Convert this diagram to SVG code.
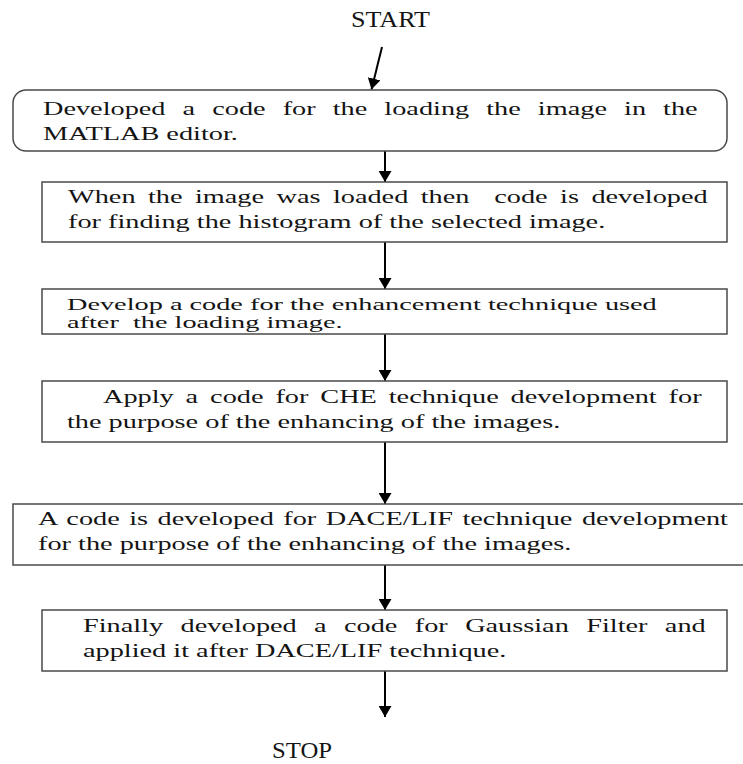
<svg xmlns="http://www.w3.org/2000/svg" width="743" height="764" viewBox="0 0 743 764">
<style>
.box{fill:#fff;stroke:#4a4a4a;stroke-width:1.5}
.t{font-family:"Liberation Serif","Times New Roman",serif;font-size:18px;fill:#141414;white-space:pre}
.t.s{font-size:17px}
.lbl{font-family:"Liberation Serif","Times New Roman",serif;font-size:24px;fill:#141414}
.arr{stroke:#000;stroke-width:2;fill:none;marker-end:url(#ah)}
</style>
<defs>
<marker id="ah" viewBox="0 0 11 13" markerWidth="11" markerHeight="13" refX="11" refY="6.5" orient="auto" markerUnits="userSpaceOnUse">
<path d="M0,0 L11,6.5 L0,13 z" fill="#000"/>
</marker>
</defs>
<rect width="743" height="764" fill="#fff"/>
<g id="start"><text class="lbl" x="351" y="27" textLength="79" lengthAdjust="spacingAndGlyphs">START</text></g>
<g id="stop"><text class="lbl" x="272" y="758" textLength="60" lengthAdjust="spacingAndGlyphs">STOP</text></g>
<g id="connectors">
<line class="arr" x1="382" y1="47" x2="371.5" y2="89.5"/>
<line class="arr" x1="385" y1="151" x2="385" y2="182"/>
<line class="arr" x1="385" y1="242" x2="385" y2="289"/>
<line class="arr" x1="385" y1="334" x2="385" y2="381"/>
<line class="arr" x1="385" y1="442" x2="385" y2="504"/>
<line class="arr" x1="385" y1="565" x2="385" y2="610"/>
<line class="arr" x1="385" y1="671" x2="385" y2="717"/>
</g>
<g id="node1">
<rect class="box" x="13" y="90" width="714" height="61" rx="13" ry="13"/>
<text class="t" transform="translate(43,115) scale(1.572,1)" word-spacing="6.36">Developed a code for the loading the image in the</text>
<text class="t" transform="translate(43,140) scale(1.572,1)">MATLAB editor.</text>
</g>
<g id="node2">
<rect class="box" x="42" y="182" width="685" height="60"/>
<text class="t" transform="translate(68,203) scale(1.572,1)" word-spacing="3.41">When the image was loaded then  code is developed</text>
<text class="t" transform="translate(68,228) scale(1.572,1)">for finding the histogram of the selected image.</text>
</g>
<g id="node3">
<rect class="box" x="42" y="289" width="685" height="45"/>
<text class="t s" transform="translate(67,309.5) scale(1.665,1)">Develop a code for the enhancement technique used</text>
<text class="t s" transform="translate(67,328) scale(1.665,1)">after  the loading image.</text>
</g>
<g id="node4">
<rect class="box" x="42" y="381" width="685" height="61"/>
<text class="t" transform="translate(103,403) scale(1.572,1)" word-spacing="3.08">Apply a code for CHE technique development for</text>
<text class="t" transform="translate(67,428) scale(1.572,1)">the purpose of the enhancing of the images.</text>
</g>
<g id="node5">
<rect class="box" x="13" y="504" width="740" height="61"/>
<text class="t" transform="translate(38,525) scale(1.572,1)" word-spacing="1.53">A code is developed for DACE/LIF technique development</text>
<text class="t" transform="translate(38,550) scale(1.572,1)">for the purpose of the enhancing of the images.</text>
</g>
<g id="node6">
<rect class="box" x="42" y="610" width="685" height="61"/>
<text class="t" transform="translate(83,632) scale(1.572,1)" word-spacing="6.55">Finally developed a code for Gaussian Filter and</text>
<text class="t" transform="translate(83,657) scale(1.572,1)">applied it after DACE/LIF technique.</text>
</g>
</svg>
